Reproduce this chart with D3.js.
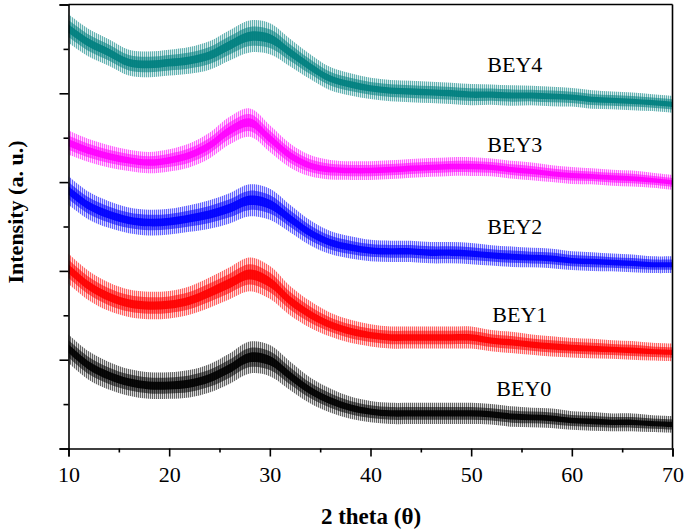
<!DOCTYPE html>
<html><head><meta charset="utf-8">
<script src="https://cdn.jsdelivr.net/npm/d3@7"></script>
<style>body{margin:0;background:#fff}svg{display:block}</style>
</head><body><svg id="c" width="685" height="532"></svg>
<script>
// 2θ sample grid (degrees)
const angles = [10,12,14,16,18,20,22,24,26,28,30,32,34,36,38,40,42,44,46,48,50,52,54,56,58,60,62,64,66,68,70];

// mean intensity (a.u., stacked/offset as plotted)
const bey0 = [225,187,164,149,142,142,146,158,180,205,198,164,131,108,92,83,79,79,79,79,79,77,72,70,68,63,61,59,59,56,54];
const bey1 = [405,367,342,327,322,324,333,351,372,392,374,333,302,279,264,255,250,250,250,250,250,243,239,234,230,227,225,223,221,218,216];
const bey2 = [581,547,527,514,509,511,518,527,541,559,550,518,486,464,453,446,444,444,441,441,439,435,432,430,428,423,421,419,417,414,414];
const bey3 = [689,671,658,649,644,649,660,682,716,734,698,660,637,628,626,626,628,631,633,635,635,633,628,624,619,615,613,610,608,604,599];
const bey4 = [946,914,892,869,865,869,874,885,908,928,923,892,860,833,820,811,806,804,802,800,797,797,795,795,793,791,786,784,782,779,775];

// noise amplitude (half-width of the noisy trace, a.u.)
const noise0 = [32,32,31,30,30,30,31,32,34,36,35,32,29,27,25,24,24,24,24,24,24,23,23,22,22,21,21,20,20,19,19];
const noise1 = [34,33,32,31,31,31,32,34,36,38,37,33,30,27,26,25,25,25,25,25,25,24,24,23,23,22,22,21,21,20,20];
const noise2 = [32,31,30,29,29,29,30,32,34,36,35,31,28,26,25,24,24,24,24,24,24,23,23,22,22,21,21,20,20,19,19];
const noise3 = [27,26,25,24,24,25,27,29,31,32,30,27,24,22,21,21,21,21,21,21,21,20,20,20,19,19,18,18,18,17,17];
const noise4 = [32,31,30,29,29,29,30,32,34,36,35,31,28,26,25,24,24,24,24,24,24,23,23,22,22,21,21,20,20,19,19];

const seriesNames = ["BEY0","BEY1","BEY2","BEY3","BEY4"];
const xTicks = [10,20,30,40,50,60,70];
const xMinorTicks = [15,25,35,45,55,65];
const yTicks = [0,200,400,600,800,1000];
const yMinorTicks = [100,300,500,700,900];

// presentation
const colors = ["#000000","#ff0000","#0000ff","#ff00ff","#008080"];
const labelAt = [[52.5,119],[52.1,284],[51.6,484],[51.6,667],[51.6,847]];

const means = [bey0,bey1,bey2,bey3,bey4];
const noises = [noise0,noise1,noise2,noise3,noise4];

const svg = d3.select("#c");
const m = {l:68.5, r:672.5, t:4.5, b:448.5};
const x = d3.scaleLinear().domain([10,70]).range([m.l, m.r]);
const y = d3.scaleLinear().domain([0,1000]).range([m.b, m.t]);

const defs = svg.append("defs");
colors.forEach((c,i)=>{
  const p = defs.append("pattern").attr("id","hatch"+i).attr("patternUnits","userSpaceOnUse")
    .attr("width",2).attr("height",6);
  p.append("rect").attr("x",0).attr("y",0).attr("width",0.9).attr("height",6).attr("fill",c).attr("opacity",0.6);
});
defs.append("clipPath").attr("id","clip").append("rect")
  .attr("x",m.l).attr("y",m.t).attr("width",m.r-m.l).attr("height",m.b-m.t);

const g = svg.append("g").attr("clip-path","url(#clip)");
means.forEach((vals,i)=>{
  const pts = angles.map((a,k)=>({a, v:vals[k], n:noises[i][k]}));
  const band = f => d3.area().curve(d3.curveCatmullRom.alpha(0.5))
    .x(d=>x(d.a)).y0(d=>y(d.v-d.n*f)).y1(d=>y(d.v+d.n*f));
  g.append("path").datum(pts).attr("d",band(1)).attr("fill","url(#hatch"+i+")");
  g.append("path").datum(pts).attr("d",band(1)).attr("fill",colors[i]).attr("opacity",0.15);
  g.append("path").datum(pts).attr("d",band(0.6)).attr("fill",colors[i]).attr("opacity",0.55);
  g.append("path").datum(pts).attr("d",band(0.3)).attr("fill",colors[i]).attr("opacity",0.9);
});

const font = "'Liberation Serif','Times New Roman',serif";

// axes
const xAxis = svg.append("g").attr("transform",`translate(0,${m.b})`)
  .call(d3.axisBottom(x).tickValues(xTicks).tickSize(8).tickPadding(10).tickFormat(d3.format("d")));
svg.append("g").attr("transform",`translate(0,${m.b})`)
  .call(d3.axisBottom(x).tickValues(xMinorTicks).tickSize(4).tickFormat(""))
  .select(".domain").remove();
const yAxis = svg.append("g").attr("transform",`translate(${m.l},0)`)
  .call(d3.axisLeft(y).tickValues(yTicks).tickSize(9).tickFormat(""));
svg.append("g").attr("transform",`translate(${m.l},0)`)
  .call(d3.axisLeft(y).tickValues(yMinorTicks).tickSize(5).tickFormat(""))
  .select(".domain").remove();
svg.selectAll(".domain").attr("stroke","#000").attr("stroke-width",1.6);
svg.selectAll(".tick line").attr("stroke","#000").attr("stroke-width",1.6);
xAxis.selectAll("text").attr("font-family",font).attr("font-size",22).attr("fill","#000");

// frame top/right
svg.append("line").attr("x1",m.l).attr("x2",m.r).attr("y1",m.t).attr("y2",m.t).attr("stroke","#000").attr("stroke-width",1.6);
svg.append("line").attr("x1",m.r).attr("x2",m.r).attr("y1",m.t).attr("y2",m.b).attr("stroke","#000").attr("stroke-width",1.6);

// labels
seriesNames.forEach((nm,i)=>{
  svg.append("text").attr("x",x(labelAt[i][0])).attr("y",y(labelAt[i][1]))
    .attr("font-family",font).attr("font-size",22).attr("fill","#000").text(nm);
});

svg.append("text").attr("x",371).attr("y",524).attr("text-anchor","middle")
  .attr("font-family",font).attr("font-weight","bold").attr("font-size",23).text("2 theta (θ)");
svg.append("text").attr("transform","translate(23,212) rotate(-90)").attr("text-anchor","middle")
  .attr("font-family",font).attr("font-weight","bold").attr("font-size",22).text("Intensity (a. u.)");
</script></body></html>
